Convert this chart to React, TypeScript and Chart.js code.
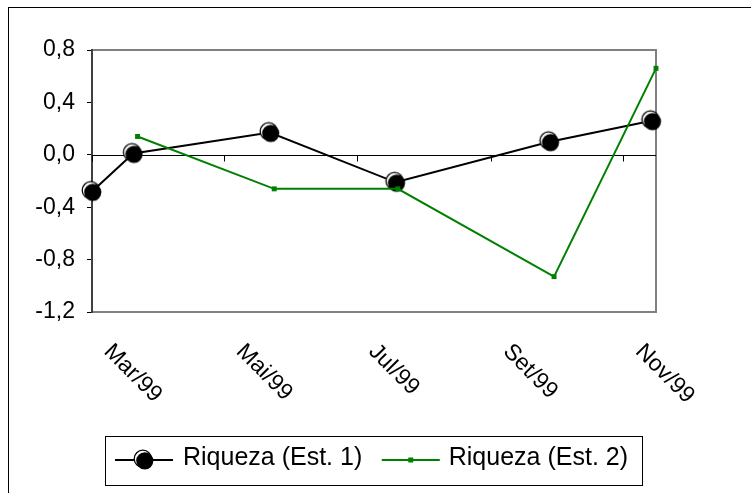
import React, { useEffect, useRef } from 'react';
import { Chart, registerables } from 'chart.js';

Chart.register(...registerables);

const FONT = "'Liberation Sans', Arial, sans-serif";

// ---- data ----
const originDate = '1999-03-01';
const axisEndDate = '1999-11-16';
const tickDates = ['1999-03-01', '1999-05-01', '1999-07-01', '1999-09-01', '1999-11-01'];
const tickLabels = ['Mar/99', 'Mai/99', 'Jul/99', 'Set/99', 'Nov/99'];
const yTicks = [-1.2, -0.8, -0.4, 0, 0.4, 0.8];

const series1Name = 'Riqueza (Est. 1)';
const series1Dates = ['1999-03-01', '1999-03-20', '1999-05-22', '1999-07-19', '1999-09-28', '1999-11-14'];
const series1Values = [-0.28, 0.01, 0.17, -0.21, 0.1, 0.26];

const series2Name = 'Riqueza (Est. 2)';
const series2Dates = ['1999-03-22', '1999-05-24', '1999-07-20', '1999-09-30', '1999-11-16'];
const series2Values = [0.14, -0.26, -0.26, -0.93, 0.66];

function dayOf(s: string): number {
  const [y, m, d] = s.split('-').map(Number);
  const [oy, om, od] = originDate.split('-').map(Number);
  return Math.round((Date.UTC(y, m - 1, d) - Date.UTC(oy, om - 1, od)) / 86400000);
}

function makeMarker(): HTMLCanvasElement {
  const m = document.createElement('canvas');
  m.width = 24;
  m.height = 24;
  const c = m.getContext('2d')!;
  c.beginPath();
  c.arc(10.8, 10.8, 8.6, 0, Math.PI * 2);
  c.fillStyle = '#fff';
  c.fill();
  c.lineWidth = 1.3;
  c.strokeStyle = '#000';
  c.stroke();
  c.beginPath();
  c.arc(12.8, 12.8, 8.6, 0, Math.PI * 2);
  c.fillStyle = '#000';
  c.fill();
  return m;
}

export default function App() {
  const ref = useRef<HTMLCanvasElement | null>(null);

  useEffect(() => {
    const canvas = ref.current;
    if (!canvas) return;
    const marker = makeMarker();
    const tickDays = tickDates.map(dayOf);

    const decor = {
      id: 'decor',
      beforeDatasetsDraw(chart: any) {
        const { ctx, chartArea: a, scales } = chart;
        const xs = scales.x;
        const ys = scales.y;
        ctx.save();
        ctx.strokeStyle = '#808080';
        ctx.lineWidth = 2;
        ctx.strokeRect(a.left, a.top, a.right - a.left, a.bottom - a.top);
        ctx.strokeStyle = '#404040';
        ctx.beginPath();
        ctx.moveTo(a.left, a.top - 1);
        ctx.lineTo(a.left, a.bottom + 1);
        ctx.stroke();
        const y0 = Math.round(ys.getPixelForValue(0)) + 0.5;
        ctx.strokeStyle = '#000';
        ctx.lineWidth = 1;
        ctx.beginPath();
        ctx.moveTo(a.left, y0);
        ctx.lineTo(a.right, y0);
        tickDays.forEach((d) => {
          const px = Math.round(xs.getPixelForValue(d)) + 0.5;
          ctx.moveTo(px, y0);
          ctx.lineTo(px, y0 + 6);
        });
        ctx.stroke();
        ctx.restore();
      },
      afterDraw(chart: any) {
        const { ctx, scales } = chart;
        const xs = scales.x;
        ctx.save();
        // rotated x labels
        ctx.fillStyle = '#000';
        ctx.font = `23px ${FONT}`;
        ctx.textAlign = 'left';
        ctx.textBaseline = 'middle';
        tickDays.forEach((d, i) => {
          const px = xs.getPixelForValue(d);
          ctx.save();
          ctx.translate(px + 15.5, 341);
          ctx.rotate(Math.PI / 4);
          ctx.fillText(tickLabels[i], 0, 0);
          ctx.restore();
        });

        // legend
        const boxL = 97, boxT = 429, boxR = 634, boxB = 478;
        ctx.strokeStyle = '#000';
        ctx.lineWidth = 1;
        ctx.strokeRect(boxL + 0.5, boxT + 0.5, boxR - boxL, boxB - boxT);
        const ly = 453;
        const textY = 458;
        ctx.font = `25px ${FONT}`;
        ctx.textBaseline = 'alphabetic';
        // item 1
        ctx.strokeStyle = '#000';
        ctx.lineWidth = 2;
        ctx.beginPath();
        ctx.moveTo(boxL + 10, ly);
        ctx.lineTo(boxL + 68, ly);
        ctx.stroke();
        ctx.drawImage(marker, boxL + 39 - 12, ly - 12);
        ctx.fillText(series1Name, boxL + 78, textY);
        // item 2
        const w2 = ctx.measureText(series2Name).width;
        const t2x = boxR - 14 - w2;
        ctx.strokeStyle = '#008000';
        ctx.beginPath();
        ctx.moveTo(t2x - 67, ly);
        ctx.lineTo(t2x - 9, ly);
        ctx.stroke();
        ctx.fillStyle = '#008000';
        ctx.fillRect(t2x - 38 - 2.5, ly - 2.5, 5, 5);
        ctx.fillStyle = '#000';
        ctx.fillText(series2Name, t2x, textY);

        // outer chart border
        ctx.fillRect(0, 0, chart.width, 1);
        ctx.fillRect(0, 0, 1, chart.height);
        ctx.restore();
      },
    };

    const chart = new Chart(canvas, {
      type: 'line',
      data: {
        datasets: [
          {
            label: series1Name,
            data: series1Dates.map((d, i) => ({ x: dayOf(d), y: series1Values[i] })),
            borderColor: '#000',
            backgroundColor: '#000',
            borderWidth: 2,
            pointStyle: marker as any,
            pointRadius: 9,
            clip: false as any,
            order: 1,
            tension: 0,
          },
          {
            label: series2Name,
            data: series2Dates.map((d, i) => ({ x: dayOf(d), y: series2Values[i] })),
            borderColor: '#008000',
            backgroundColor: '#008000',
            borderWidth: 2,
            pointStyle: 'rect',
            pointRadius: 3.5,
            pointBorderWidth: 0,
            clip: false as any,
            order: 0,
            tension: 0,
          },
        ],
      },
      options: {
        animation: false,
        responsive: false,
        maintainAspectRatio: false,
        events: [],
        layout: { padding: { top: 43, left: 0, right: 95, bottom: 181 } },
        plugins: { legend: { display: false }, tooltip: { enabled: false } },
        scales: {
          x: { type: 'linear', display: false, min: 0, max: dayOf(axisEndDate) },
          y: {
            min: -1.2,
            max: 0.8,
            afterBuildTicks: (s: any) => {
              s.ticks = yTicks.map((v) => ({ value: v }));
            },
            afterFit: (s: any) => {
              s.width = 84;
            },
            grid: { drawOnChartArea: false, drawTicks: true, tickLength: 5, color: '#000', lineWidth: 1 },
            border: { display: false },
            ticks: {
              padding: 12,
              color: '#000',
              font: { family: FONT, size: 23 },
              callback: (v: any) => {
                const n = Math.abs(Number(v)) < 1e-9 ? 0 : Number(v);
                return n.toFixed(1).replace('.', ',');
              },
            },
          },
        },
      },
      plugins: [decor],
    });
    return () => chart.destroy();
  }, []);

  return (
    <div style={{ position: 'fixed', left: 8, top: 7, width: 743, height: 486, overflow: 'hidden' }}>
      <canvas ref={ref} width={743} height={486} style={{ display: 'block' }} />
    </div>
  );
}
